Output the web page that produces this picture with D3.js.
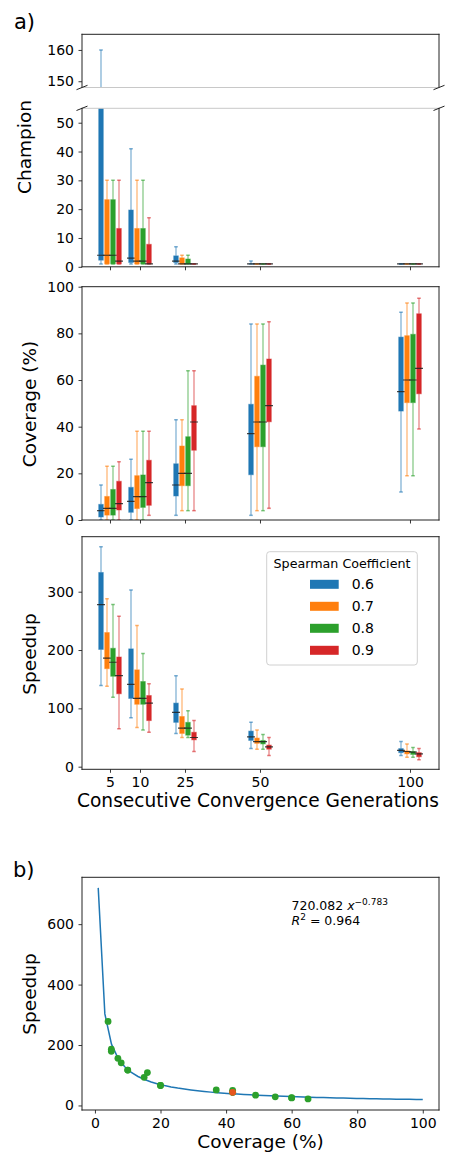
<!DOCTYPE html>
<html><head><meta charset="utf-8">
<script src="https://cdn.jsdelivr.net/npm/d3@7"></script>
<style>body{margin:0;background:#fff} text{font-family:"DejaVu Sans",sans-serif;fill:#000}</style>
</head><body><svg id="c" width="449" height="1156"></svg>
<script>
// ---------- data ----------
const generations = ["5", "10", "25", "50", "100"];
const genPositions = [0, 10, 25, 50, 100];
const coefficients = ["0.6", "0.7", "0.8", "0.9"];
const colors = ["#1f77b4", "#ff7f0e", "#2ca02c", "#d62728"];
// [whiskerLow, q1, median, q3, whiskerHigh]; [generation][coefficient]
const championStats = [
  [[1, 2.3, 4, 60, 160], [1, 1, 4, 23.3, 30], [1, 1, 4, 23.3, 30], [1, 1, 2, 13.3, 30]],
  [[1, 1.5, 3, 19.7, 41], [1, 1, 2, 13.3, 30], [1, 1, 2, 13.3, 30], [1, 1, 1, 7.8, 17]],
  [[1, 1.5, 2, 3.8, 7], [1, 1, 1, 3.1, 4], [1, 1, 1, 2.7, 4], [1, 1, 1, 1, 1]],
  [[1, 1, 1, 1, 2], [1, 1, 1, 1, 1], [1, 1, 1, 1, 1], [1, 1, 1, 1, 1]],
  [[1, 1, 1, 1, 1], [1, 1, 1, 1, 1], [1, 1, 1, 1, 1], [1, 1, 1, 1, 1]]
];
const coverageStats = [
  [[0, 1.3, 4, 6.7, 15], [0, 2.1, 5, 10.1, 23], [0, 2.1, 5, 13.1, 23], [0, 4.3, 7, 16.6, 25]],
  [[0, 3.3, 8, 14, 26], [0, 4.9, 10, 19, 38], [0, 5.4, 10, 19.3, 38], [2, 6.3, 16, 25.6, 38]],
  [[2, 10.3, 15, 24.1, 43], [4, 14.7, 20, 31.7, 43], [4, 14.7, 20, 35.7, 64], [4, 29.9, 42, 49, 64]],
  [[2, 19.4, 37, 49.6, 84], [4, 31.4, 42, 61.6, 84], [4, 31.4, 42, 66.4, 84], [5, 42.1, 49, 69, 85]],
  [[12, 46.7, 55, 78.4, 89], [19, 50.3, 60, 79, 93], [19, 50.3, 60, 79.6, 93], [39, 54.1, 65, 88.4, 95]]
];
const speedupStats = [
  [[139, 201, 278, 333, 377], [138, 168, 186, 230, 288], [119, 155, 179, 203, 278], [65, 125, 156, 188, 258]],
  [[84, 117, 141, 202, 303], [67, 107, 117, 166, 242], [63, 107, 117, 146, 194], [59, 79, 109, 122, 142]],
  [[57, 76, 93, 109, 156], [50, 57, 66, 86, 133], [50, 54, 66, 76, 96], [26, 46, 50, 59, 79]],
  [[31, 45, 51, 61, 76], [30, 40, 43, 49, 63], [30, 39, 43, 45, 55], [19, 30, 34, 37, 50]],
  [[19, 24, 28, 31, 43], [16, 22, 26, 27, 39], [16, 21, 25, 26, 33], [12, 17, 22, 24, 31]]
];
// panel b) : median coverage vs median speedup
const scatterCoverage = [4, 5, 5, 7, 8, 10, 10, 16, 15, 20, 20, 42, 37, 42, 42, 49, 55, 60, 60, 65];
const scatterSpeedup = [278, 186, 179, 156, 141, 117, 117, 109, 93, 66, 66, 50, 51.5, 43.4, 43.4, 34, 28.6, 25.7, 25, 21.8];
const highlightCoverage = [42];
const highlightSpeedup = [43.4];
const fitCoef = [720.082, -0.783];
const fitR2 = "0.964";
const champTicksLow = [0, 10, 20, 30, 40, 50];
const champTicksHigh = [150, 160];
const coverageTicks = [0, 20, 40, 60, 80, 100];
const speedupTicks = [0, 100, 200, 300];
const bTicksX = [0, 20, 40, 60, 80, 100];
const bTicksY = [0, 200, 400, 600];

// ---------- layout ----------
const svg = d3.select("#c");
const L = 82, R = 439;
const FONT = "DejaVu Sans";
const x = d3.scaleLinear().domain([-9.333, 109.667]).range([L, R]);

const panels = {
  high: {y0: 34.3, y1: 87.5, dom: [148, 165]},
  low: {y0: 108.3, y1: 266.8, dom: [0, 55]},
  cov: {y0: 286.7, y1: 520, dom: [0, 100]},
  spd: {y0: 536.7, y1: 769.3, dom: [-4.5, 394.3]}
};
for (const k in panels) {
  const p = panels[k];
  p.y = d3.scaleLinear().domain(p.dom).range([p.y1, p.y0]);
}

const defs = svg.append("defs");
function clip(id, p) {
  defs.append("clipPath").attr("id", id).append("rect")
    .attr("x", L).attr("y", p.y0).attr("width", R - L).attr("height", p.y1 - p.y0);
}
clip("cHigh", panels.high); clip("cLow", panels.low); clip("cCov", panels.cov); clip("cSpd", panels.spd);

function drawBoxes(stats, p, clipId) {
  const g = svg.append("g").attr("clip-path", `url(#${clipId})`);
  const y = p.y;
  coefficients.forEach((coef, c) => {
    const col = colors[c];
    const gc = g.append("g");
    stats.forEach((groupStats, gi) => {
      const s = groupStats[c];
      const cx = x(genPositions[gi] + (c - 1.5) * 2);
      // whiskers
      gc.append("line").attr("x1", cx).attr("x2", cx).attr("y1", y(s[0])).attr("y2", y(s[1]))
        .attr("stroke", col).attr("stroke-opacity", 0.6).attr("stroke-width", 1.2);
      gc.append("line").attr("x1", cx).attr("x2", cx).attr("y1", y(s[3])).attr("y2", y(s[4]))
        .attr("stroke", col).attr("stroke-opacity", 0.6).attr("stroke-width", 1.2);
      // caps
      [s[0], s[4]].forEach(v => {
        gc.append("line").attr("x1", cx - 1.8).attr("x2", cx + 1.8).attr("y1", y(v)).attr("y2", y(v))
          .attr("stroke", col).attr("stroke-opacity", 0.6).attr("stroke-width", 1.5);
      });
      // box
      const top = y(s[3]), bot = y(s[1]);
      gc.append("rect").attr("x", cx - 2.3).attr("width", 4.6)
        .attr("y", top).attr("height", Math.max(0.01, bot - top))
        .attr("fill", col).attr("stroke", col).attr("stroke-opacity", 0.45).attr("stroke-width", 1);
      // median
      gc.append("line").attr("x1", cx - 4).attr("x2", cx + 4).attr("y1", y(s[2])).attr("y2", y(s[2]))
        .attr("stroke", "#222").attr("stroke-opacity", 0.85).attr("stroke-width", 1.2);
    });
  });
}

function yAxis(p, ticks) {
  const ax = svg.append("g").attr("transform", `translate(${L},0)`)
    .call(d3.axisLeft(p.y).tickValues(ticks).tickSize(3.5).tickSizeOuter(0).tickPadding(4.5));
  ax.select(".domain").remove();
  ax.selectAll("line").attr("stroke", "#222").attr("stroke-width", 0.9);
  ax.selectAll("text").attr("font-family", FONT).attr("font-size", 14).attr("fill", "#000");
  return ax;
}
function xAxis(yPos, withLabels, scale, ticks, labels) {
  const a = d3.axisBottom(scale).tickValues(ticks).tickSize(3.5).tickSizeOuter(0).tickPadding(4);
  a.tickFormat(withLabels ? ((d, i) => labels[i]) : () => "");
  const ax = svg.append("g").attr("transform", `translate(0,${yPos})`).call(a);
  ax.select(".domain").remove();
  ax.selectAll("line").attr("stroke", "#222").attr("stroke-width", 0.9);
  ax.selectAll("text").attr("font-family", FONT).attr("font-size", 14).attr("fill", "#000");
  return ax;
}
function frame(y0, y1, sides, color) {
  const segs = {top: [L, y0, R, y0], bottom: [L, y1, R, y1], left: [L, y0, L, y1], right: [R, y0, R, y1]};
  sides.forEach(sd => {
    const s = segs[sd];
    svg.append("line").attr("x1", s[0]).attr("y1", s[1]).attr("x2", s[2]).attr("y2", s[3])
      .attr("stroke", color || "#222").attr("stroke-width", 1).attr("stroke-linecap", "square");
  });
}

// ---------- panel a) champion (broken) ----------
drawBoxes(championStats, panels.high, "cHigh");
drawBoxes(championStats, panels.low, "cLow");
yAxis(panels.high, champTicksHigh);
yAxis(panels.low, champTicksLow);
xAxis(panels.low.y1, false, x, genPositions, generations);
frame(panels.high.y0, panels.high.y1, ["top", "left", "right"]);
frame(panels.high.y0, panels.high.y1, ["bottom"], "#c8c8c8");
frame(panels.low.y0, panels.low.y1, ["top"], "#c8c8c8");
frame(panels.low.y0, panels.low.y1, ["bottom", "left", "right"]);
// break marks
[[L, panels.high.y1], [R, panels.high.y1], [L, panels.low.y0], [R, panels.low.y0]].forEach(([bx, by]) => {
  svg.append("line").attr("x1", bx - 5.5).attr("y1", by + 2.2).attr("x2", bx + 5.5).attr("y2", by - 2.2)
    .attr("stroke", "#222").attr("stroke-width", 1);
});

// ---------- coverage ----------
drawBoxes(coverageStats, panels.cov, "cCov");
yAxis(panels.cov, coverageTicks);
xAxis(panels.cov.y1, false, x, genPositions, generations);
frame(panels.cov.y0, panels.cov.y1, ["top", "bottom", "left", "right"]);

// ---------- speedup ----------
drawBoxes(speedupStats, panels.spd, "cSpd");
yAxis(panels.spd, speedupTicks);
xAxis(panels.spd.y1, true, x, genPositions, generations);
frame(panels.spd.y0, panels.spd.y1, ["top", "bottom", "left", "right"]);

// legend
const lg = svg.append("g");
lg.append("rect").attr("x", 266.7).attr("y", 551.7).attr("width", 150.6).attr("height", 113.3)
  .attr("rx", 3).attr("fill", "#fff").attr("fill-opacity", 0.8).attr("stroke", "#d0d0d0").attr("stroke-width", 1);
lg.append("text").attr("x", 342).attr("y", 567.8).attr("text-anchor", "middle")
  .attr("font-family", FONT).attr("font-size", 12.7).text("Spearman Coefficient");
coefficients.forEach((c, i) => {
  const cy = 584.3 + i * 22;
  lg.append("rect").attr("x", 310).attr("y", cy - 4.5).attr("width", 28.7).attr("height", 9).attr("fill", colors[i]);
  lg.append("text").attr("x", 351.7).attr("y", cy + 5.1).attr("font-family", FONT).attr("font-size", 14).text(c);
});

// labels
function ylab(txt, cx, cy) {
  svg.append("text").attr("transform", `translate(${cx},${cy}) rotate(-90)`).attr("text-anchor", "middle")
    .attr("font-family", FONT).attr("font-size", 18.5).text(txt);
}
ylab("Champion", 31, 147);
ylab("Coverage (%)", 36, 404);
ylab("Speedup", 36, 654);
svg.append("text").attr("x", 258).attr("y", 806.5).attr("text-anchor", "middle")
  .attr("font-family", FONT).attr("font-size", 18.6).text("Consecutive Convergence Generations");
svg.append("text").attr("x", 14).attr("y", 29).attr("font-family", FONT).attr("font-size", 21).text("a)");

// ---------- panel b) ----------
const bY0 = 877.3, bY1 = 1110;
const bx = d3.scaleLinear().domain([-3.95, 104.95]).range([L, R]);
const by = d3.scaleLinear().domain([-15, 755]).range([bY1, bY0]);
const fitX = d3.range(50).map(i => 1 + i * 99 / 49);
const line = d3.line().x(d => bx(d)).y(d => by(fitCoef[0] * Math.pow(d, fitCoef[1])));
svg.append("path").datum(fitX).attr("d", line).attr("fill", "none")
  .attr("stroke", "#1f77b4").attr("stroke-width", 1.5);
scatterCoverage.forEach((cv, i) => {
  svg.append("circle").attr("cx", bx(cv)).attr("cy", by(scatterSpeedup[i])).attr("r", 3.4).attr("fill", "#2ca02c");
});
highlightCoverage.forEach((cv, i) => {
  svg.append("circle").attr("cx", bx(cv)).attr("cy", by(highlightSpeedup[i])).attr("r", 3.4).attr("fill", "#e6561e");
});
{
  const a1 = svg.append("g").attr("font-family", FONT).attr("font-size", 12.5);
  const t1 = a1.append("text").attr("x", 291.5).attr("y", 910);
  t1.append("tspan").text(fitCoef[0].toFixed(3) + " ");
  t1.append("tspan").attr("font-style", "italic").text("x");
  t1.append("tspan").attr("font-size", 9).attr("dy", -5).text("\u2212" + Math.abs(fitCoef[1]).toFixed(3));
  const t2 = a1.append("text").attr("x", 291.5).attr("y", 925);
  t2.append("tspan").attr("font-style", "italic").text("R");
  t2.append("tspan").attr("font-size", 9).attr("dy", -5).text("2");
  t2.append("tspan").attr("dy", 5).text(" = " + fitR2);
}
{
  const ax = svg.append("g").attr("transform", `translate(${L},0)`)
    .call(d3.axisLeft(by).tickValues(bTicksY).tickSize(3.5).tickPadding(4.5));
  ax.select(".domain").remove();
  ax.selectAll("line").attr("stroke", "#222").attr("stroke-width", 0.9);
  ax.selectAll("text").attr("font-family", FONT).attr("font-size", 14);
  const ax2 = svg.append("g").attr("transform", `translate(0,${bY1})`)
    .call(d3.axisBottom(bx).tickValues(bTicksX).tickSize(3.5).tickPadding(4.5));
  ax2.select(".domain").remove();
  ax2.selectAll("line").attr("stroke", "#222").attr("stroke-width", 0.9);
  ax2.selectAll("text").attr("font-family", FONT).attr("font-size", 14);
}
frame(bY0, bY1, ["top", "bottom", "left", "right"]);
ylab("Speedup", 36, 994);
svg.append("text").attr("x", 260.5).attr("y", 1148).attr("text-anchor", "middle")
  .attr("font-family", FONT).attr("font-size", 18.5).text("Coverage (%)");
svg.append("text").attr("x", 13).attr("y", 877).attr("font-family", FONT).attr("font-size", 21).text("b)");
</script></body></html>
